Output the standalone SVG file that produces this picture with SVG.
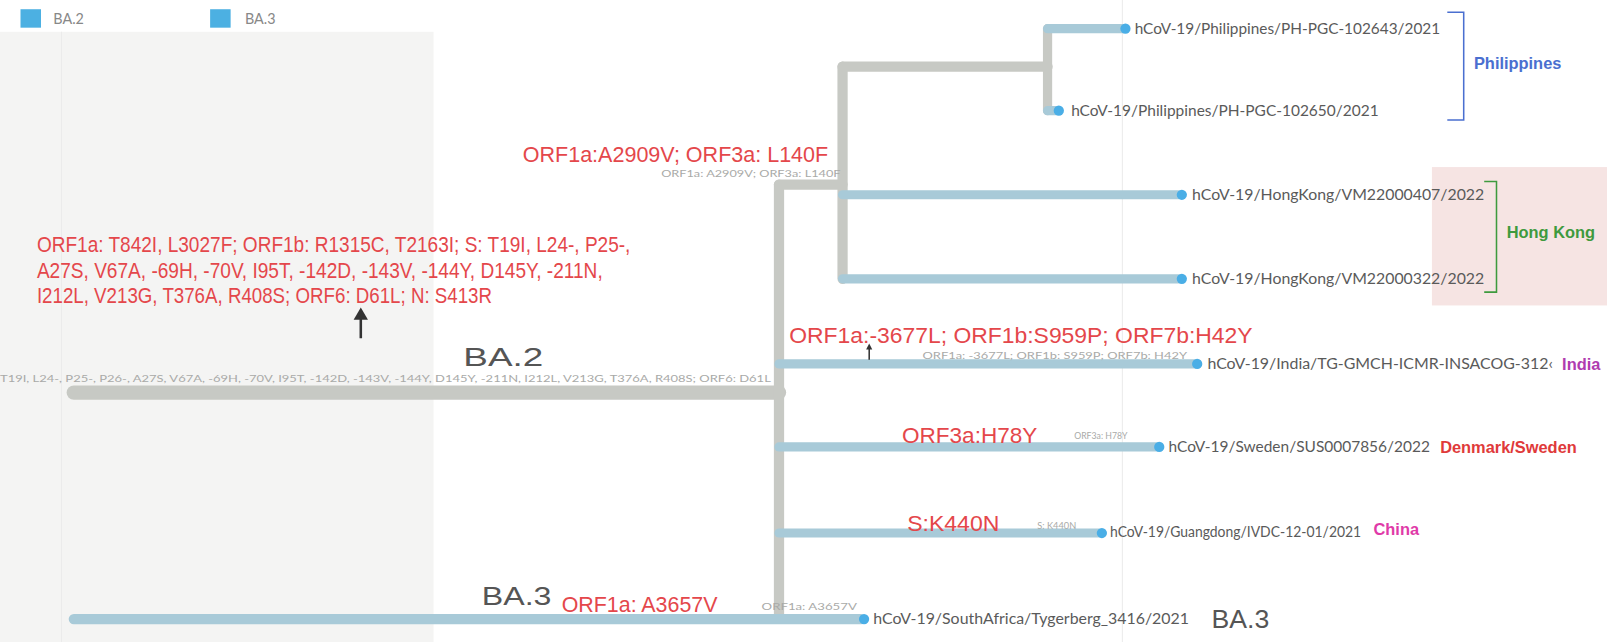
<svg xmlns="http://www.w3.org/2000/svg" width="1607" height="642" viewBox="0 0 1607 642">
<style>
.red{font-family:"Liberation Sans",Arial,sans-serif;fill:#e4474b;font-size:21px}
.mut{font-family:Lato,"Liberation Sans",sans-serif;fill:#a9aaa8;font-size:10px}
.tip{font-family:Lato,"Liberation Sans",sans-serif;fill:#5a5a5a;font-size:14px}
.reg{font-family:"Liberation Sans",Arial,sans-serif;font-weight:bold;font-size:16px}
.big{font-family:"Liberation Sans",Arial,sans-serif;fill:#555;font-size:26px}
.gb{stroke:#c7c9c4;stroke-linecap:round;fill:none}
.bb{stroke:#a8cad8;stroke-linecap:round;fill:none}
.dot{fill:#4aaee6}
.leg{font-family:Lato,"Liberation Sans",sans-serif;font-size:14px;fill:#888}
</style>
<rect width="1607" height="642" fill="#ffffff"/>
<g transform="scale(1.025)">
<rect x="0" y="31" width="423" height="600" fill="#f4f4f3"/>
<g stroke="#ebebeb" stroke-width="1">
<line x1="60" y1="31" x2="60" y2="630"/>
<line x1="1095" y1="0" x2="1095" y2="630"/>
</g>
<rect x="1397" y="163" width="220" height="135" fill="#f6e4e3"/>
<g id="legend">
<rect x="20" y="9" width="20" height="18" fill="#4cb0e2"/>
<text class="leg" x="52" y="23">BA.2</text>
<rect x="205" y="9" width="20" height="18" fill="#4cb0e2"/>
<text class="leg" x="239" y="23">BA.3</text>
</g>
<g id="connectors">
<line class="gb" x1="72" y1="383" x2="760" y2="383" stroke-width="14"/>
<line class="gb" x1="760" y1="180" x2="760" y2="600" stroke-width="10" stroke-linecap="butt"/>
<line class="gb" x1="760" y1="180" x2="822" y2="180" stroke-width="10"/>
<line class="gb" x1="822" y1="65" x2="822" y2="272" stroke-width="10" stroke-linecap="butt"/>
<line class="gb" x1="822" y1="65" x2="1022" y2="65" stroke-width="10"/>
<line class="gb" x1="1022" y1="28" x2="1022" y2="108" stroke-width="9"/>
<line class="bb" x1="1022" y1="28" x2="1096" y2="28" stroke-width="9"/>
<line class="bb" x1="1022" y1="108" x2="1030" y2="108" stroke-width="9"/>
<line class="bb" x1="822" y1="190" x2="1150" y2="190" stroke-width="9"/>
<line class="bb" x1="822" y1="272" x2="1150" y2="272" stroke-width="9"/>
<line class="bb" x1="760" y1="355" x2="1165" y2="355" stroke-width="9"/>
<line class="bb" x1="760" y1="436" x2="1128" y2="436" stroke-width="9"/>
<line class="bb" x1="760" y1="520" x2="1072" y2="520" stroke-width="9"/>
<line class="bb" x1="72" y1="604" x2="840" y2="604" stroke-width="10"/>
<circle class="dot" cx="1098" cy="28" r="5"/>
<circle class="dot" cx="1033" cy="108" r="5"/>
<circle class="dot" cx="1153" cy="190" r="5"/>
<circle class="dot" cx="1153" cy="272" r="5"/>
<circle class="dot" cx="1168" cy="355" r="5"/>
<circle class="dot" cx="1131" cy="436" r="5"/>
<circle class="dot" cx="1075" cy="520" r="5"/>
<circle class="dot" cx="843" cy="604" r="5"/>
</g>
<g id="ba2-root">
<text class="mut" x="0" y="373" textLength="752" lengthAdjust="spacingAndGlyphs">T19I, L24-, P25-, P26-, A27S, V67A, -69H, -70V, I95T, -142D, -143V, -144Y, D145Y, -211N, I212L, V213G, T376A, R408S; ORF6: D61L</text>
<text class="big" x="452" y="357" font-size="28" textLength="78" lengthAdjust="spacingAndGlyphs">BA.2</text>
<text class="red" x="36" y="246" textLength="579" lengthAdjust="spacingAndGlyphs">ORF1a: T842I, L3027F; ORF1b: R1315C, T2163I; S: T19I, L24-, P25-,</text>
<text class="red" x="36" y="271" textLength="552" lengthAdjust="spacingAndGlyphs">A27S, V67A, -69H, -70V, I95T, -142D, -143V, -144Y, D145Y, -211N,</text>
<text class="red" x="36" y="296" textLength="444" lengthAdjust="spacingAndGlyphs">I212L, V213G, T376A, R408S; ORF6: D61L; N: S413R</text>
<line x1="352" y1="330" x2="352" y2="310" stroke="#333" stroke-width="2.5"/>
<path d="M345,312 L352,300 L359,312 Z" fill="#333"/>
</g>
<g id="clade-a2909v">
<text class="red" x="510" y="158" textLength="298" lengthAdjust="spacingAndGlyphs">ORF1a:A2909V; ORF3a: L140F</text>
<text class="mut" x="645" y="173" textLength="175" lengthAdjust="spacingAndGlyphs">ORF1a: A2909V; ORF3a: L140F</text>
</g>
<g id="philippines">
<text class="tip" x="1107" y="33" textLength="298" lengthAdjust="spacingAndGlyphs">hCoV-19/Philippines/PH-PGC-102643/2021</text>
<text class="tip" x="1045" y="113" textLength="300" lengthAdjust="spacingAndGlyphs">hCoV-19/Philippines/PH-PGC-102650/2021</text>
<path d="M1412,12 H1428 V117 H1412" fill="none" stroke="#4a6fd0" stroke-width="1.5"/>
<text class="reg" x="1438" y="67" fill="#4a6fd0">Philippines</text>
</g>
<g id="hongkong">
<text class="tip" x="1163" y="195" textLength="285" lengthAdjust="spacingAndGlyphs">hCoV-19/HongKong/VM22000407/2022</text>
<text class="tip" x="1163" y="277" textLength="285" lengthAdjust="spacingAndGlyphs">hCoV-19/HongKong/VM22000322/2022</text>
<path d="M1448,177 H1460 V285 H1448" fill="none" stroke="#3e9a3e" stroke-width="1.5"/>
<text class="reg" x="1470" y="232" fill="#3e9a3e">Hong Kong</text>
</g>
<g id="india">
<text class="red" x="770" y="335" textLength="452" lengthAdjust="spacingAndGlyphs">ORF1a:-3677L; ORF1b:S959P; ORF7b:H42Y</text>
<text class="mut" x="900" y="350" textLength="258" lengthAdjust="spacingAndGlyphs">ORF1a: -3677L; ORF1b: S959P; ORF7b: H42Y</text>
<line x1="848" y1="351" x2="848" y2="340" stroke="#333" stroke-width="1.5"/>
<path d="M845,341 L848,335 L851,341 Z" fill="#333"/>
<text class="tip" x="1178" y="360" textLength="337" lengthAdjust="spacingAndGlyphs">hCoV-19/India/TG-GMCH-ICMR-INSACOG-312‹</text>
<text class="reg" x="1524" y="361" fill="#b03cb0" font-size="14">India</text>
</g>
<g id="sweden">
<text class="red" x="880" y="432" textLength="132" lengthAdjust="spacingAndGlyphs">ORF3a:H78Y</text>
<text class="mut" x="1048" y="428" textLength="52" lengthAdjust="spacingAndGlyphs">ORF3a: H78Y</text>
<text class="tip" x="1140" y="441" textLength="255" lengthAdjust="spacingAndGlyphs">hCoV-19/Sweden/SUS0007856/2022</text>
<text class="reg" x="1405" y="442" fill="#e03a3a">Denmark/Sweden</text>
</g>
<g id="china">
<text class="red" x="885" y="518" textLength="90" lengthAdjust="spacingAndGlyphs">S:K440N</text>
<text class="mut" x="1012" y="516" textLength="38" lengthAdjust="spacingAndGlyphs">S: K440N</text>
<text class="tip" x="1083" y="524" textLength="245" lengthAdjust="spacingAndGlyphs">hCoV-19/Guangdong/IVDC-12-01/2021</text>
<text class="reg" x="1340" y="522" fill="#e03aa8" font-size="14">China</text>
</g>
<g id="ba3">
<text class="big" x="470" y="590" textLength="68" lengthAdjust="spacingAndGlyphs">BA.3</text>
<text class="red" x="548" y="597" textLength="152" lengthAdjust="spacingAndGlyphs">ORF1a: A3657V</text>
<text class="mut" x="743" y="595" textLength="93" lengthAdjust="spacingAndGlyphs">ORF1a: A3657V</text>
<text class="tip" x="852" y="609" textLength="308" lengthAdjust="spacingAndGlyphs">hCoV-19/SouthAfrica/Tygerberg_3416/2021</text>
<text class="big" x="1182" y="613">BA.3</text>
</g>
</g>
</svg>
